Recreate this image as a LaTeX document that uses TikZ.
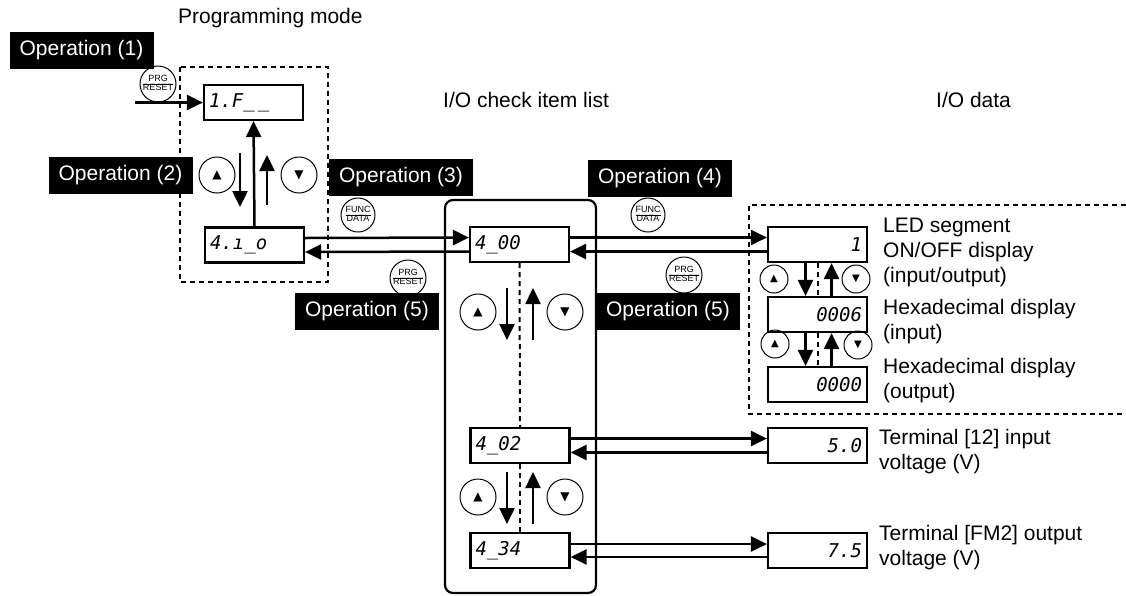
\documentclass[tikz,border=0pt]{standalone}
\usepackage{fontspec}
\setmainfont{Liberation Sans}
\newfontfamily\segfont{DejaVu Sans Mono}
\newfontfamily\symfont{DejaVu Sans}
\usetikzlibrary{arrows.meta,calc}
\begin{document}
\begin{tikzpicture}[x=1pt,y=-1pt,
  every node/.style={inner sep=0pt, font=\fontsize{21}{25}\selectfont},
  disp/.style={draw, line width=2.2pt, minimum width=99pt, minimum height=35pt, text width=89pt,
     font=\segfont\itshape\fontsize{19}{19}\selectfont},
  displ/.style={disp, align=left},
  dispr/.style={disp, align=right},
  opbox/.style={fill=black, text=white, minimum width=144pt, minimum height=37pt},
  btn/.style={circle, draw, line width=1pt, minimum size=36pt, font=\symfont\fontsize{12}{12}\selectfont},
  sbtn/.style={circle, draw, line width=1pt, minimum size=28pt, font=\symfont\fontsize{10}{10}\selectfont},
  keybtn/.style={circle, draw, line width=1pt, minimum size=36pt, align=center,
     font=\fontsize{9}{9}\selectfont},
  arr/.style={line width=2.5pt, -{Triangle[length=16pt,width=15pt]}},
  dashln/.style={line width=2pt, dash pattern=on 5pt off 4pt},
  lbl/.style={anchor=west, align=left}
]
\useasboundingbox (0,0) rectangle (1126,595);
\fill[white] (0,0) rectangle (1126,595);

% headers
\node[anchor=west] (hprog) at (178,18) {Programming mode};
\node[anchor=west] (hlist) at (443,100) {I/O check item list};
\node[anchor=west] (hdata) at (936,100) {I/O data};

% frames
\draw[dashln] (180,67) rectangle (328,282);
\draw[line width=2.2pt, rounded corners=8pt] (445,200) rectangle (596,593);
\draw[dashln] (1126,205) -- (749,205) -- (749,414) -- (1126,414);

% operation labels
\node[opbox] (op1) at (81.5,50) {Operation (1)};
\node[opbox] (op2) at (120.5,175) {Operation (2)};
\node[opbox] (op3) at (401,177.5) {Operation (3)};
\node[opbox] (op4) at (660,178.5) {Operation (4)};
\node[opbox] (op5l) at (367,311.5) {Operation (5)};
\node[opbox] (op5r) at (668,311.5) {Operation (5)};

% key buttons
\newcommand{\prgkey}{\setlength\tabcolsep{0pt}\renewcommand\arraystretch{0.95}\begin{tabular}{c}PRG\\\hline RESET\end{tabular}}
\newcommand{\funckey}{\setlength\tabcolsep{0pt}\renewcommand\arraystretch{0.95}\begin{tabular}{c}FUNC\\\hline DATA\end{tabular}}
\node[keybtn] (k1) at (158,84) {\prgkey};
\node[keybtn, minimum size=34pt] (k3) at (358,215) {\funckey};
\node[keybtn] (k5l) at (408,278) {\prgkey};
\node[keybtn, minimum size=34pt] (k4) at (648,215) {\funckey};
\node[keybtn] (k5r) at (684,275) {\prgkey};

\node[btn] (u1) at (217,175) {▲};
\node[btn] (v1) at (299,175) {▼};
\node[btn] (u2) at (478,312) {▲};
\node[btn] (v2) at (565,312) {▼};
\node[btn] (u3) at (478,497) {▲};
\node[btn] (v3) at (565,497) {▼};
\node[sbtn] (u4) at (774,279) {▲};
\node[sbtn] (v4) at (856,279) {▼};
\node[sbtn] (u5) at (775,344) {▲};
\node[sbtn] (v5) at (858,345) {▼};

% displays
\node[displ] (p1) at (253.5,102.5) {1.F\_\,\_};
\node[displ] (p2) at (254.5,245) {4.ı\_o};
\node[displ] (c0) at (519.5,244.5) {4\_00};
\node[displ] (c2) at (520,445.5) {4\_02};
\node[displ] (c3) at (520,550.5) {4\_34};
\node[dispr] (d1) at (817.5,244.5) {1};
\node[dispr] (d2) at (817.5,314.5) {0006};
\node[dispr] (d3) at (817.5,384.5) {0000};
\node[dispr] (d5) at (817.5,445.5) {5.0};
\node[dispr] (d7) at (817.5,550.5) {7.5};

% data labels
\node[lbl] (t1) at (883,252) {LED segment\\ON/OFF display\\(input/output)};
\node[lbl] (t2) at (883,321.5) {Hexadecimal display\\(input)};
\node[lbl] (t3) at (883,380.5) {Hexadecimal display\\(output)};
\node[lbl] (t5) at (879,452) {Terminal [12] input\\voltage (V)};
\node[lbl] (t7) at (879,548) {Terminal [FM2] output\\voltage (V)};

% connectors: programming mode
\coordinate (in0) at (135,102.5);
\draw[arr] (in0) -- (p1.west);
\draw[arr] (p2.north) -- (p1.south);
\coordinate (pa1) at (240,153); \coordinate (pa2) at (240,207);
\draw[arr] (pa1) -- (pa2);
\coordinate (pb1) at (267,205); \coordinate (pb2) at (267,155);
\draw[arr] (pb1) -- (pb2);

% programming <-> list
\draw[arr] ([yshift=7pt]p2.east) -- ([yshift=7pt]c0.west);
\draw[arr] ([yshift=-7pt]c0.west) -- ([yshift=-7pt]p2.east);

% list <-> data
\draw[arr] ([yshift=7pt]c0.east) -- ([yshift=7pt]d1.west);
\draw[arr] ([yshift=-7pt]d1.west) -- ([yshift=-7pt]c0.east);
\draw[arr] ([yshift=7pt]c2.east) -- ([yshift=7pt]d5.west);
\draw[arr] ([yshift=-7pt]d5.west) -- ([yshift=-7pt]c2.east);
\draw[arr] ([yshift=6.5pt]c3.east) -- ([yshift=6.5pt]d7.west);
\draw[arr] ([yshift=-6.5pt]d7.west) -- ([yshift=-6.5pt]c3.east);

% list vertical
\draw[dashln] (c0.south) -- (c2.north);
\draw[dashln] (c2.south) -- (c3.north);
\coordinate (la1) at (507,288); \coordinate (la2) at (507,340);
\draw[arr] (la1) -- (la2);
\coordinate (lb1) at (533,340); \coordinate (lb2) at (533,288);
\draw[arr] (lb1) -- (lb2);
\coordinate (lc1) at (507,472); \coordinate (lc2) at (507,524);
\draw[arr] (lc1) -- (lc2);
\coordinate (ld1) at (533,524); \coordinate (ld2) at (533,472);
\draw[arr] (ld1) -- (ld2);

% data vertical
\draw[dashln] (d1.south) -- (d2.north);
\draw[dashln] (d2.south) -- (d3.north);
\draw[arr] ([xshift=-12pt]d1.south) -- ([xshift=-12pt]d2.north);
\draw[arr] ([xshift=14pt]d2.north) -- ([xshift=14pt]d1.south);
\draw[arr] ([xshift=-12pt]d2.south) -- ([xshift=-12pt]d3.north);
\draw[arr] ([xshift=14pt]d3.north) -- ([xshift=14pt]d2.south);
\end{tikzpicture}
\end{document}
